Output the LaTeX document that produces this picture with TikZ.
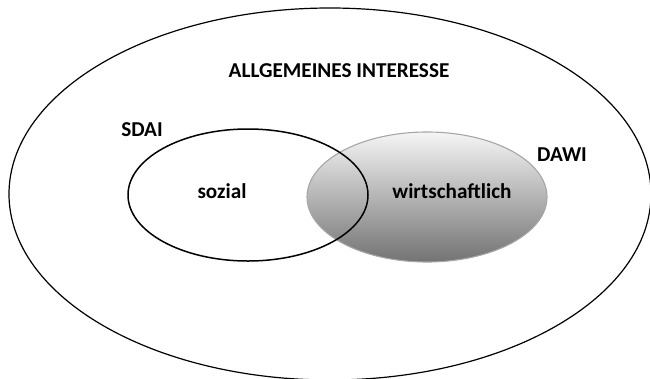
\documentclass[tikz,border=0pt]{standalone}
\usepackage{fontspec}
\setmainfont{Carlito}
\begin{document}
\begin{tikzpicture}[x=1pt,y=-1pt,
  lbl/.style={font=\fontsize{21.2}{25}\selectfont\bfseries, inner sep=0pt, anchor=center}]
\useasboundingbox (0,0) rectangle (650,378);
\clip (0,0) rectangle (650,378);
% outer ellipse
\draw[line width=1.2pt] (330,194) ellipse [x radius=321, y radius=186];
% DAWI ellipse (shaded)
\shade[top color=black!4, bottom color=black!55, draw=black!35, line width=1.1pt]
  (427,197) ellipse [x radius=120, y radius=65];
% SDAI ellipse
\draw[line width=1.5pt] (248,195) ellipse [x radius=120, y radius=66];
% labels
\node[lbl] (allg) at (339,71) {ALLGEMEINES INTERESSE};
\node[lbl] (sdai) at (142,130) {SDAI};
\node[lbl] (dawi) at (562,155) {DAWI};
\node[lbl] (soz) at (222,191) {sozial};
\node[lbl] (wirt) at (452,191) {wirtschaftlich};
\end{tikzpicture}
\end{document}
